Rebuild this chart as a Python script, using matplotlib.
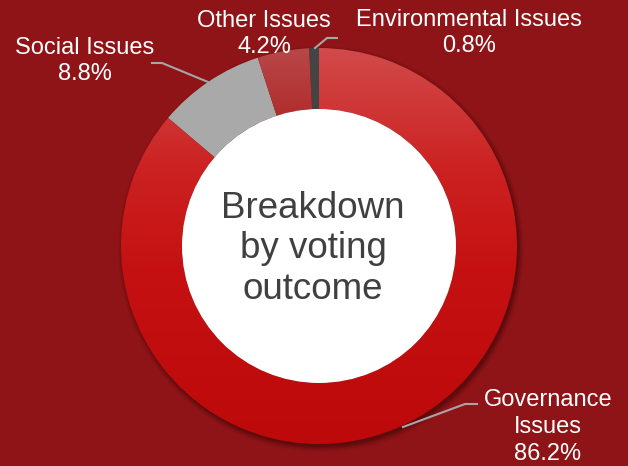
import numpy as np
import matplotlib.pyplot as plt
from matplotlib.colors import LinearSegmentedColormap
from matplotlib.patches import Circle

plt.rcParams['font.family'] = ['Liberation Sans', 'DejaVu Sans']

categories = ["Governance Issues", "Social Issues", "Other Issues", "Environmental Issues"]
shares = [86.2, 8.8, 4.2, 0.8]
label_lines = [["Governance", "Issues", "86.2%"],
               ["Social Issues", "8.8%"],
               ["Other Issues", "4.2%"],
               ["Environmental Issues", "0.8%"]]

W, H = 628, 466
bg = "#8f1417"

fig = plt.figure(figsize=(W / 100, H / 100), dpi=100)
fig.patch.set_facecolor(bg)
ax = fig.add_axes([0, 0, 1, 1])
ax.set_facecolor(bg)
ax.set_xlim(0, W)
ax.set_ylim(0, H)
ax.set_aspect("equal")
ax.axis("off")


def Y(y):
    return H - y


cx, cy, r, ring = 319, Y(246), 198, 61

# soft shadow under the ring
for k, a in zip(range(6), [0.10, 0.08, 0.06, 0.05, 0.04, 0.03]):
    ax.add_patch(Circle((cx + 2, cy - 3), r + k, color="black", alpha=a, lw=0, zorder=1))

wedges, _ = ax.pie(shares, startangle=90, counterclock=False, center=(cx, cy), radius=r,
                   colors=["none", "#a9a9a9", "none", "#444444"],
                   wedgeprops=dict(width=ring, edgecolor="none"), frame=True)
for w in wedges:
    w.set_zorder(2)

grad = np.linspace(0, 1, 256).reshape(-1, 1)
extent = [cx - r, cx + r, cy - r, cy + r]
gov_cmap = LinearSegmentedColormap.from_list(
    "gov", [(0, "#d24a4a"), (0.3, "#cc2222"), (0.55, "#c51111"), (1, "#bd0909")])
oth_cmap = LinearSegmentedColormap.from_list(
    "oth", [(0, "#b84848"), (0.2, "#b02828"), (1, "#a81818")])
for w, cm in [(wedges[0], gov_cmap), (wedges[2], oth_cmap)]:
    im = ax.imshow(grad, cmap=cm, extent=extent, origin="upper", aspect="auto", zorder=2)
    im.set_clip_path(w)

ax.add_patch(Circle((cx, cy), r - ring, color="white", lw=0, zorder=3))
ax.set_xlim(0, W)
ax.set_ylim(0, H)

ax.text(313, Y(249), "Breakdown\nby voting\noutcome", ha="center", va="center",
        fontsize=26.5, color="#404040", linespacing=1.22, zorder=4)

label_pos = [(548, 427), (85, 61), (264, 34), (469, 33)]
for lines, (x, y) in zip(label_lines, label_pos):
    ax.text(x, Y(y), "\n".join(lines), ha="center", va="center", fontsize=17,
            color="white", linespacing=1.27, zorder=4)

lc = "#a6a6a6"
ax.plot([477, 465, 403], [Y(404), Y(404), Y(427)], color=lc, lw=1.5, zorder=4)
ax.plot([152, 162, 208], [Y(63), Y(63), Y(82)], color=lc, lw=1.5, zorder=4)
ax.plot([337, 327, 315], [Y(38), Y(38), Y(48)], color=lc, lw=1.5, zorder=4)

fig.savefig("out.png", dpi=100, facecolor=bg)
